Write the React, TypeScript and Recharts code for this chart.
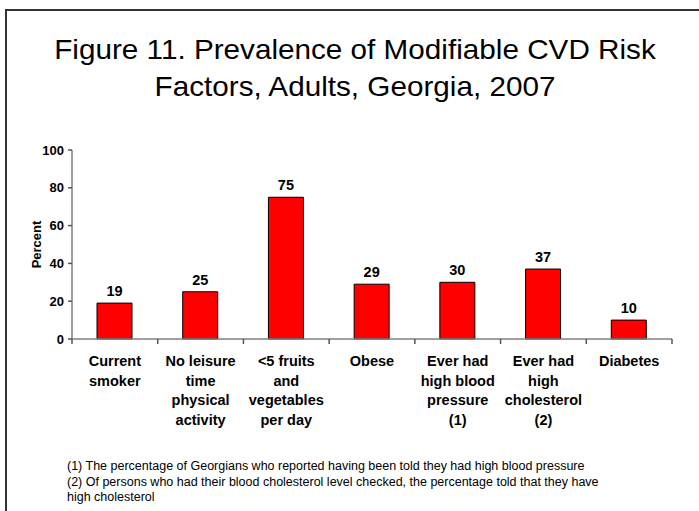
import React from 'react';
import { BarChart, Bar, XAxis, YAxis, LabelList } from 'recharts';

// Risk factor categories, each label split into the lines it is drawn on
const categories: string[][] = [
  ['Current', 'smoker'],
  ['No leisure', 'time', 'physical', 'activity'],
  ['<5 fruits', 'and', 'vegetables', 'per day'],
  ['Obese'],
  ['Ever had', 'high blood', 'pressure', '(1)'],
  ['Ever had', 'high', 'cholesterol', '(2)'],
  ['Diabetes'],
];

// Prevalence, percent of adults
const prevalence = [19, 25, 75, 29, 30, 37, 10];

const percentTicks = [0, 20, 40, 60, 80, 100];

const titleLines = [
  'Figure 11. Prevalence of Modifiable CVD Risk',
  'Factors, Adults, Georgia, 2007',
];

const footnotes = [
  '(1) The percentage of Georgians who reported having been told they had high blood pressure',
  '(2) Of persons who had their blood cholesterol level checked, the percentage told that they have',
  'high cholesterol',
];

const FONT = "'Liberation Sans', Arial, sans-serif";
const AXIS_GRAY = '#808080';
const TICK_GRAY = '#555';

const data = categories.map((lines, i) => ({
  name: lines.join(' '),
  lines,
  value: prevalence[i],
}));

// multi-line category label with the tick marks on the category edges
const CategoryTick = (props: any) => {
  const { x, y, index, payload, visibleTicksCount } = props;
  const lines = data[index]?.lines ?? [];
  const count = visibleTicksCount || data.length;
  const half = Number(payload?.offset) > 0 ? Number(payload.offset) : 600 / (2 * count);
  const left = x - half;
  const right = x + half;
  return (
    <g>
      <path d={`M${left},${y}v5`} stroke={TICK_GRAY} strokeWidth={1.5} />
      {index === count - 1 && <path d={`M${right},${y}v5`} stroke={TICK_GRAY} strokeWidth={1.5} />}
      <text
        x={x}
        y={y}
        textAnchor="middle"
        fontFamily={FONT}
        fontSize={14.5}
        fontWeight="bold"
        fill="#000"
      >
        {lines.map((line, i) => (
          <tspan key={i} x={x} dy={i === 0 ? 27 : 19.6}>
            {line}
          </tspan>
        ))}
      </text>
    </g>
  );
};

export default function App() {
  return (
    <div
      style={{
        position: 'absolute',
        left: 0,
        top: 0,
        width: 699,
        height: 511,
        background: '#fff',
        overflow: 'hidden',
        fontFamily: FONT,
      }}
    >
      {/* slide frame */}
      <div style={{ position: 'absolute', left: 5, top: 9, width: 700, height: 2, background: '#333' }} />
      <div style={{ position: 'absolute', left: 5, top: 9, width: 2, height: 510, background: '#333' }} />

      <div
        style={{
          position: 'absolute',
          left: 0,
          top: 31,
          width: 710,
          textAlign: 'center',
          fontSize: 28,
          lineHeight: '37px',
          color: '#000',
          transform: 'scaleX(1.06)',
          transformOrigin: '355px 0',
        }}
      >
        {titleLines.map((t) => (
          <div key={t}>{t}</div>
        ))}
      </div>

      <div style={{ position: 'absolute', left: 0, top: 0 }}>
        <BarChart
          width={699}
          height={511}
          data={data}
          margin={{ top: 150, right: 27, bottom: 72, left: 32 }}
        >
          <XAxis
            dataKey="name"
            height={100}
            interval={0}
            tickSize={0}
            tickMargin={0}
            tickLine={false}
            axisLine={{ stroke: AXIS_GRAY, strokeWidth: 1.5 }}
            tick={(p: any) => <CategoryTick {...p} />}
          />
          <YAxis
            width={40}
            domain={[0, 100]}
            ticks={percentTicks}
            interval={0}
            tickSize={4}
            tickMargin={4}
            axisLine={{ stroke: AXIS_GRAY, strokeWidth: 1.5 }}
            tickLine={{ stroke: TICK_GRAY, strokeWidth: 1.5 }}
            tick={{ fontFamily: FONT, fontSize: 13, fontWeight: 'bold', fill: '#000' }}
            label={{
              value: 'Percent',
              angle: -90,
              position: 'insideLeft',
              offset: 4,
              style: { textAnchor: 'middle', fontFamily: FONT, fontSize: 13, fontWeight: 'bold', fill: '#000' },
            }}
          />
          <Bar
            dataKey="value"
            fill="#FF0000"
            stroke="#000"
            strokeWidth={1}
            barSize={35}
            isAnimationActive={false}
          >
            <LabelList
              dataKey="value"
              position="top"
              offset={7}
              style={{ fontFamily: FONT, fontSize: 14.5, fontWeight: 'bold', fill: '#000' }}
            />
          </Bar>
        </BarChart>
      </div>

      <div
        style={{
          position: 'absolute',
          left: 67,
          top: 459,
          fontSize: 12.5,
          lineHeight: '15.5px',
          color: '#000',
          whiteSpace: 'nowrap',
        }}
      >
        {footnotes.map((f) => (
          <div key={f}>{f}</div>
        ))}
      </div>
    </div>
  );
}
